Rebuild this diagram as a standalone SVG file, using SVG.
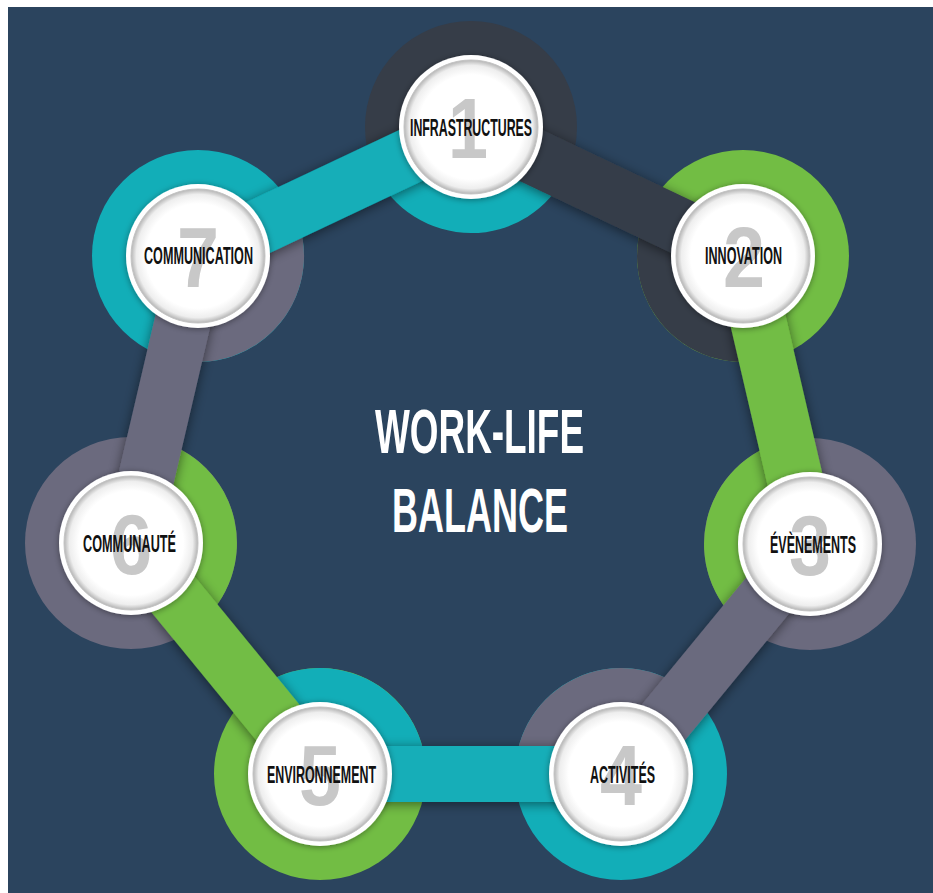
<svg xmlns="http://www.w3.org/2000/svg" width="933" height="893" viewBox="0 0 933 893">
<defs>
<filter id="sh" filterUnits="userSpaceOnUse" x="0" y="0" width="933" height="893">
<feGaussianBlur in="SourceAlpha" stdDeviation="6"/>
<feOffset dx="0" dy="2" result="b"/>
<feFlood flood-color="#000" flood-opacity="0.5"/>
<feComposite in2="b" operator="in"/>
<feMerge><feMergeNode/><feMergeNode in="SourceGraphic"/></feMerge>
</filter>
<filter id="wsh" filterUnits="userSpaceOnUse" x="0" y="0" width="933" height="893">
<feGaussianBlur in="SourceAlpha" stdDeviation="3"/>
<feOffset dx="0" dy="1" result="b"/>
<feFlood flood-color="#000" flood-opacity="0.4"/>
<feComposite in2="b" operator="in"/>
<feMerge><feMergeNode/><feMergeNode in="SourceGraphic"/></feMerge>
</filter>
<radialGradient id="inner" cx="0.5" cy="0.5" r="0.5">
<stop offset="0" stop-color="#ffffff"/>
<stop offset="0.78" stop-color="#ffffff"/>
<stop offset="0.92" stop-color="#eeeeee"/>
<stop offset="1" stop-color="#b5b5b5"/>
</radialGradient>
<style>
.dark{fill:#363d48}
.green{fill:#72bd44}
.gray{fill:#6b6a7e}
.teal{fill:#12aeb8}
.strip{stroke-width:56;stroke-linecap:butt;filter:url(#sh)}
.sdark{stroke:#363d48}
.sgreen{stroke:#72bd44}
.sgray{stroke:#6b6a7e}
.steal{stroke:#12aeb8}
.outer{fill:#ffffff;filter:url(#wsh)}
.in{fill:url(#inner);stroke:#c4c4c4;stroke-width:1}
.num{font-family:"Liberation Sans",Arial,sans-serif;font-weight:bold;font-size:86px;fill:#c8c8c8;text-anchor:middle}
.lbl{font-family:"Liberation Sans",Arial,sans-serif;font-weight:bold;font-size:23.5px;fill:#111111;text-anchor:middle}
.title{font-family:"Liberation Sans",Arial,sans-serif;font-weight:bold;font-size:63px;fill:#ffffff;text-anchor:middle}
</style>
</defs>
<rect x="0" y="0" width="933" height="893" fill="#ffffff"/>
<rect x="8" y="7" width="925" height="886" fill="#2b445e"/>

<g id="rings">
<g id="ring-1"><circle class="dark" cx="471" cy="127" r="106"/><path class="teal" d="M471 127 L375.1 172.3 A106 106 0 0 0 566.8 172.4 Z"/></g>
<g id="ring-2"><circle class="green" cx="743" cy="256" r="106"/><path class="dark" d="M743 256 L647.2 210.6 A106 106 0 0 0 767 359.2 Z"/></g>
<g id="ring-3"><circle class="gray" cx="810" cy="544" r="106"/><path class="green" d="M810 544 L786 440.8 A106 106 0 0 0 742.7 625.9 Z"/></g>
<g id="ring-4"><circle class="teal" cx="621" cy="774" r="106"/><path class="gray" d="M621 774 L688.3 692.1 A106 106 0 0 0 515 774 Z"/></g>
<g id="ring-5"><circle class="green" cx="320" cy="774" r="106"/><path class="teal" d="M320 774 L426 774 A106 106 0 0 0 252.9 692 Z"/></g>
<g id="ring-6"><circle class="gray" cx="131" cy="543" r="106"/><path class="green" d="M131 543 L198.1 625 A106 106 0 0 0 155.1 439.8 Z"/></g>
<g id="ring-7"><circle class="teal" cx="198" cy="256" r="106"/><path class="gray" d="M198 256 L173.9 359.2 A106 106 0 0 0 293.9 210.7 Z"/></g>
</g>

<g id="connectors">
<line class="strip sdark" x1="471" y1="127" x2="743" y2="256"/>
<line class="strip sgreen" x1="743" y1="256" x2="810" y2="544"/>
<line class="strip sgray" x1="810" y1="544" x2="621" y2="774"/>
<line class="strip steal" x1="621" y1="774" x2="320" y2="774"/>
<line class="strip sgreen" x1="320" y1="774" x2="131" y2="543"/>
<line class="strip sgray" x1="131" y1="543" x2="198" y2="256"/>
<line class="strip steal" x1="198" y1="256" x2="471" y2="127"/>
</g>

<g id="node-1"><circle class="outer" cx="471" cy="127" r="72"/><circle class="in" cx="471" cy="127" r="67"/><text class="num" x="468" y="158" textLength="40" lengthAdjust="spacingAndGlyphs">1</text><text class="lbl" x="471" y="135.5" textLength="122" lengthAdjust="spacingAndGlyphs">INFRASTRUCTURES</text></g>
<g id="node-2"><circle class="outer" cx="743" cy="256" r="72"/><circle class="in" cx="743" cy="256" r="67"/><text class="num" x="744" y="287" textLength="42" lengthAdjust="spacingAndGlyphs">2</text><text class="lbl" x="743.5" y="264" textLength="77" lengthAdjust="spacingAndGlyphs">INNOVATION</text></g>
<g id="node-3"><circle class="outer" cx="810" cy="544" r="72"/><circle class="in" cx="810" cy="544" r="67"/><text class="num" x="810" y="575" textLength="42" lengthAdjust="spacingAndGlyphs">3</text><text class="lbl" x="813" y="552.5" textLength="86" lengthAdjust="spacingAndGlyphs">ÉVÈNEMENTS</text></g>
<g id="node-4"><circle class="outer" cx="621" cy="774" r="72"/><circle class="in" cx="621" cy="774" r="67"/><text class="num" x="621" y="805" textLength="42" lengthAdjust="spacingAndGlyphs">4</text><text class="lbl" x="622.5" y="782.5" textLength="65" lengthAdjust="spacingAndGlyphs">ACTIVITÉS</text></g>
<g id="node-5"><circle class="outer" cx="320" cy="774" r="72"/><circle class="in" cx="320" cy="774" r="67"/><text class="num" x="320" y="805" textLength="42" lengthAdjust="spacingAndGlyphs">5</text><text class="lbl" x="321.5" y="782.5" textLength="109" lengthAdjust="spacingAndGlyphs">ENVIRONNEMENT</text></g>
<g id="node-6"><circle class="outer" cx="131" cy="543" r="72"/><circle class="in" cx="131" cy="543" r="67"/><text class="num" x="131" y="574" textLength="42" lengthAdjust="spacingAndGlyphs">6</text><text class="lbl" x="129.5" y="551.5" textLength="93" lengthAdjust="spacingAndGlyphs">COMMUNAUTÉ</text></g>
<g id="node-7"><circle class="outer" cx="198" cy="256" r="72"/><circle class="in" cx="198" cy="256" r="67"/><text class="num" x="198" y="287" textLength="42" lengthAdjust="spacingAndGlyphs">7</text><text class="lbl" x="198.5" y="264" textLength="109" lengthAdjust="spacingAndGlyphs">COMMUNICATION</text></g>

<g id="title">
<text class="title" x="479.5" y="453" textLength="209" lengthAdjust="spacingAndGlyphs">WORK-LIFE</text>
<text class="title" x="480" y="532" textLength="176" lengthAdjust="spacingAndGlyphs">BALANCE</text>
</g>
</svg>
